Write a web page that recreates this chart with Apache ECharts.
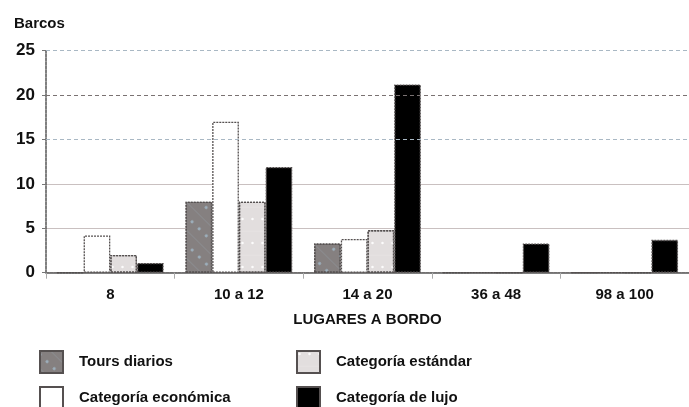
<!DOCTYPE html>
<html><head><meta charset="utf-8">
<script src="https://cdn.jsdelivr.net/npm/echarts@6/dist/echarts.min.js"></script>
<style>html,body{margin:0;padding:0;background:#fff}#c{width:689px;height:407px}</style>
</head><body><div id="c"></div>
<script>
const categories = ['8', '10 a 12', '14 a 20', '36 a 48', '98 a 100'];
const toursDiarios = [0, 8, 3.3, 0, 0];
const catEconomica = [4.2, 17, 3.8, 0, 0];
const catEstandar = [2, 8, 4.8, 0, 0];
const catLujo = [1.1, 11.9, 21.2, 3.3, 3.7];
const yTicks = [0, 5, 10, 15, 20, 25];
const dashedLevels = [15, 20, 25];

const FONT = "'Liberation Sans', Arial, sans-serif";
const chart = echarts.init(document.getElementById('c'), null, {renderer: 'canvas'});

const border = {borderColor: '#555050', borderWidth: 1.3, borderType: [2, 1]};
function bar(name, data, style, extra) {
  return Object.assign({
    name, type: 'bar', data,
    barGap: '0%', barCategoryGap: '17%',
    itemStyle: Object.assign({}, border, style)
  }, extra || {});
}
const legendText = {fontFamily: FONT, fontSize: 15, fontWeight: 'bold', color: '#111', padding: [0, 0, 0, 11]};

chart.setOption({
  animation: false,
  textStyle: {fontFamily: FONT},
  title: {text: 'Barcos', left: 9, top: 11,
    textStyle: {fontFamily: FONT, fontSize: 15, fontWeight: 'bold', color: '#111'}},
  grid: {left: 46, right: -6, top: 50.7, bottom: 134.3, containLabel: false},
  legend: [
    {data: ['Tours diarios', 'Categoría económica'], orient: 'vertical', left: 39, top: 350, padding: 0,
     height: 60, itemWidth: 23, itemHeight: 22, itemGap: 12, icon: 'rect', textStyle: legendText},
    {data: ['Categoría estándar', 'Categoría de lujo'], orient: 'vertical', left: 296, top: 350, padding: 0,
     height: 60, itemWidth: 23, itemHeight: 22, itemGap: 12, icon: 'rect', textStyle: legendText}
  ],
  xAxis: {
    type: 'category', data: categories,
    name: 'LUGARES A BORDO', nameLocation: 'middle', nameGap: 40,
    nameTextStyle: {fontFamily: FONT, fontSize: 15, fontWeight: 'bold', color: '#111'},
    axisLine: {lineStyle: {color: '#555', type: [3, 1], width: 1.5}},
    axisTick: {show: true, length: 6, lineStyle: {color: '#aaa'}},
    axisLabel: {fontFamily: FONT, fontSize: 15, fontWeight: 'bold', color: '#111', margin: 15}
  },
  yAxis: {
    type: 'value', min: 0, max: 25, interval: 5,
    axisLine: {show: true, lineStyle: {color: '#555', type: [3, 1], width: 1.5}},
    axisTick: {show: true, length: 4, lineStyle: {color: '#777'}},
    axisLabel: {fontFamily: FONT, fontSize: 17, fontWeight: 'bold', color: '#111', margin: 11,
      formatter: v => yTicks.includes(v) ? String(v) : ''},
    splitLine: {lineStyle: {color: ['#c9c0c0', '#c9c0c0', '#c9c0c0', 'rgba(0,0,0,0)', 'rgba(0,0,0,0)', 'rgba(0,0,0,0)'], width: 1.2}}
  },
  series: [
    bar('Tours diarios', toursDiarios, {color: '#858080',
      decal: {symbol: 'circle', symbolSize: 0.6, color: 'rgba(170,200,220,0.7)', dashArrayX: [[1, 0], [5, 5]], dashArrayY: [5, 5], rotation: 0.78}}, {
      markLine: {silent: true, symbol: 'none', label: {show: false},
        lineStyle: {type: [4, 3], width: 1.2},
        data: dashedLevels.map(v => ({yAxis: v, lineStyle: {color: v === 20 ? '#7a7272' : '#a9b8c4'}}))}
    }),
    bar('Categoría económica', catEconomica, {color: '#ffffff'}),
    bar('Categoría estándar', catEstandar, {color: '#e2dede',
      decal: {symbol: 'circle', symbolSize: 0.5, color: 'rgba(255,255,255,0.9)', dashArrayX: [[1, 0], [5, 5]], dashArrayY: [6, 6]}}),
    bar('Categoría de lujo', catLujo, {color: '#000000'})
  ]
});
</script></body></html>
